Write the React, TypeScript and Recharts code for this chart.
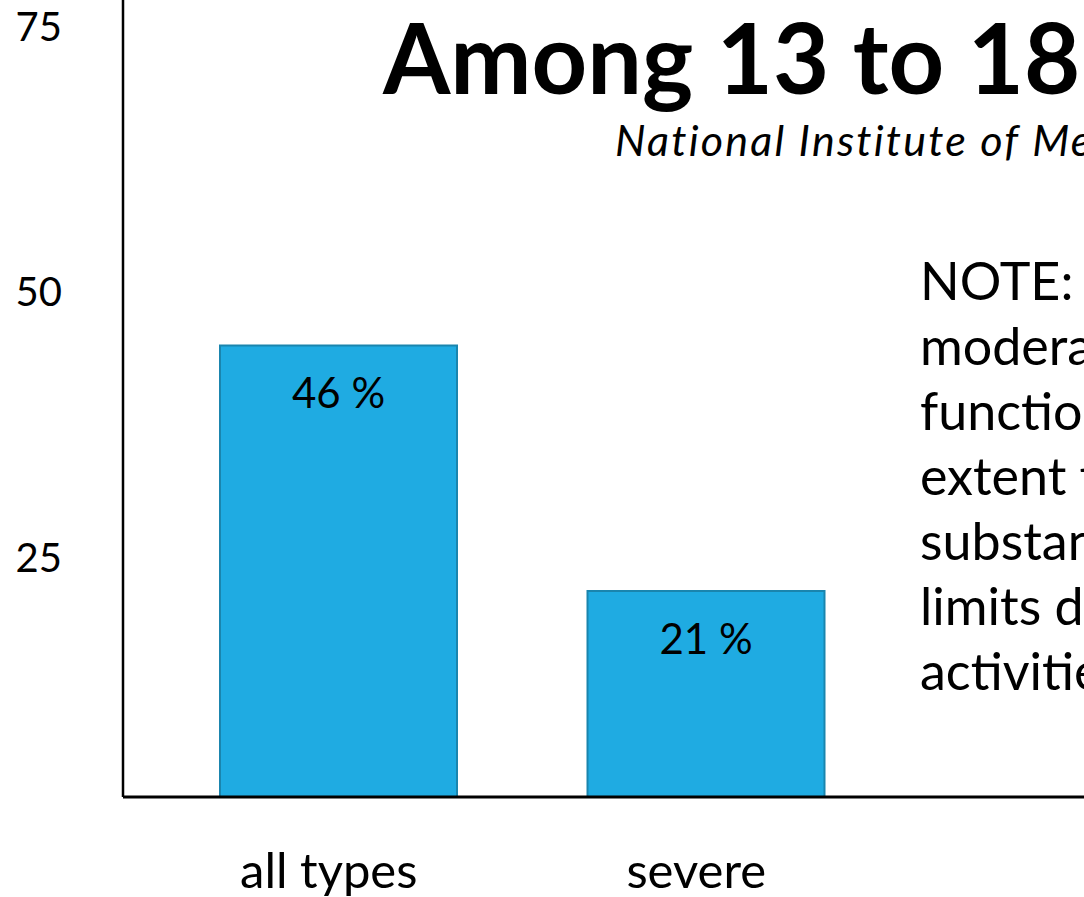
import React from 'react'
import { ComposedChart, Bar, Line, XAxis, YAxis, LabelList } from 'recharts'

const categories = ['all types', 'severe']
const percents = [46, 21]
const yTicks = [25, 50, 75]
const noteLines = ['NOTE: Severe =', 'moderate or severe', 'functional impairment', 'extent that it', 'substantially', 'limits daily', 'activities']

const FONT = 'Lato, "Open Sans", sans-serif'

const data = categories.map((name, i) => ({ name, value: percents[i] }))

export default function App() {
  return (
    <div
      style={{
        position: 'fixed',
        left: 0,
        top: 0,
        width: 1084,
        height: 897,
        overflow: 'hidden',
        background: '#fff',
        fontFamily: FONT,
      }}
    >
      <ComposedChart
        width={1084}
        height={897}
        data={data}
        margin={{ top: 0, right: 0, left: 0, bottom: 0 }}
        barSize={237}
      >
        <XAxis
          dataKey="name"
          xAxisId="x"
          padding={{ left: 32, right: 194 }}
          axisLine={{ stroke: '#000', strokeWidth: 3 }}
          tickLine={false}
          tickSize={0}
          tickMargin={56}
          tick={{ fill: '#000', fontSize: 49, fontFamily: FONT, dx: -10 }}
          height={100}
        />
        {/* tick labels sit a little off the bar scale in the slide */}
        <YAxis
          yAxisId="ticks"
          orientation="left"
          type="number"
          domain={[2.5, 77.5]}
          allowDataOverflow
          ticks={yTicks}
          width={123}
          axisLine={{ stroke: '#000', strokeWidth: 2.5 }}
          tickLine={false}
          tickSize={0}
          tickMargin={61}
          tick={{ fill: '#000', fontSize: 40, fontFamily: FONT }}
        />
        <YAxis yAxisId="main" orientation="right" type="number" domain={[0, 81.2]} width={0} hide />
        <Bar
          dataKey="value"
          xAxisId="x"
          yAxisId="main"
          fill="#1FABE2"
          stroke="#1A85AE"
          strokeWidth={2}
          isAnimationActive={false}
        >
          <LabelList
            dataKey="value"
            position="insideTop"
            offset={33}
            formatter={(v: any) => `${v} %`}
            style={{ fill: '#000', fontSize: 42, fontFamily: FONT }}
          />
        </Bar>
        {/* invisible series so the label axis gets its ticks */}
        <Line
          dataKey="value"
          xAxisId="x"
          yAxisId="ticks"
          stroke="none"
          dot={false}
          activeDot={false}
          legendType="none"
          isAnimationActive={false}
        />
      </ComposedChart>

      <div
        style={{
          position: 'absolute',
          left: 383,
          top: 4,
          whiteSpace: 'nowrap',
          fontSize: 97,
          fontWeight: 700,
          lineHeight: '106px',
        }}
      >
        Among 13 to 18 year olds
      </div>
      <div
        style={{
          position: 'absolute',
          left: 615,
          top: 114,
          whiteSpace: 'nowrap',
          fontSize: 43,
          fontStyle: 'italic',
          letterSpacing: 2.2,
          lineHeight: '52px',
        }}
      >
        National Institute of Mental Health
      </div>
      <div
        style={{
          position: 'absolute',
          left: 920,
          top: 248,
          whiteSpace: 'nowrap',
          fontSize: 52,
          lineHeight: '65px',
        }}
      >
        {noteLines.map((l) => (
          <div key={l}>{l}</div>
        ))}
      </div>
    </div>
  )
}
